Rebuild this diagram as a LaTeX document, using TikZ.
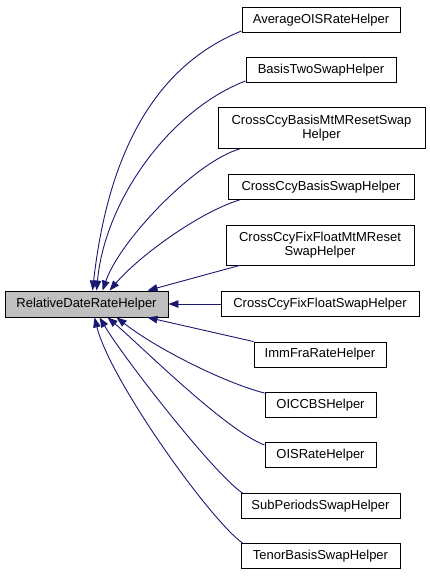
\documentclass[tikz,border=0pt]{standalone}
\usepackage{fontspec}
\setmainfont{Liberation Sans}
\usetikzlibrary{arrows.meta,calc}
\definecolor{edgeblue}{HTML}{191970}
\definecolor{mainfill}{HTML}{BFBFBF}
\begin{document}
\begin{tikzpicture}[x=1pt,y=-1pt,
  box/.style={draw=black,line width=0.9pt,fill=white,inner sep=0pt,align=center,
    font=\fontsize{13}{14}\selectfont},
  mainbox/.style={box,fill=mainfill},
  edge/.style={draw=edgeblue,line width=0.9pt,-{Triangle[length=10pt,width=7.5pt]}}]
\useasboundingbox (0,0) rectangle (429,576);
\node[mainbox,minimum width=163pt,minimum height=26pt] (main) at (86.5,304) {RelativeDateRateHelper};
\node[box,minimum width=158pt,minimum height=25pt] (avg) at (321,20) {AverageOISRateHelper};
\node[box,minimum width=150pt,minimum height=25pt] (basis) at (321,70) {BasisTwoSwapHelper};
\node[box,minimum width=207pt,minimum height=41pt] (ccbmtm) at (321.5,128) {CrossCcyBasisMtMResetSwap\\Helper};
\node[box,minimum width=186pt,minimum height=25pt] (ccbs) at (321,187) {CrossCcyBasisSwapHelper};
\node[box,minimum width=188pt,minimum height=40pt] (ccffmtm) at (320,245) {CrossCcyFixFloatMtMReset\\SwapHelper};
\node[box,minimum width=198pt,minimum height=25pt] (ccffs) at (320,304) {CrossCcyFixFloatSwapHelper};
\node[box,minimum width=132pt,minimum height=25pt] (imm) at (320,354.5) {ImmFraRateHelper};
\node[box,minimum width=111pt,minimum height=25pt] (oiccbs) at (320.5,405) {OICCBSHelper};
\node[box,minimum width=111pt,minimum height=25pt] (ois) at (320.5,455) {OISRateHelper};
\node[box,minimum width=159pt,minimum height=25pt] (subp) at (320.5,506) {SubPeriodsSwapHelper};
\node[box,minimum width=159pt,minimum height=25pt] (tenor) at (320.5,556) {TenorBasisSwapHelper};

\draw[edge] ($(avg.south west)+(0,-2)$) .. controls (140,72) and (105,180) .. ($(main.north west)+(88,0)$);
\draw[edge] ($(basis.south west)+(0,-2)$) .. controls (170,110) and (105,200) .. ($(main.north west)+(92,0)$);
\draw[edge] ($(ccbmtm.south west)+(22,0)$) .. controls (195,162) and (120,240) .. ($(main.north west)+(98,0)$);
\draw[edge] ($(ccbs.south west)+(12,0)$) .. controls (200,212) and (140,255) .. ($(main.north west)+(105,0)$);
\draw[edge] ($(ccffmtm.south west)+(14,0)$) -- ($(main.north west)+(143,0)$);
\draw[edge] (ccffs.west) -- (main.east);
\draw[edge] (imm.north west) -- ($(main.south west)+(143,0)$);
\draw[edge] ($(oiccbs.north west)+(0,1)$) .. controls (225,383) and (157,349) .. ($(main.south west)+(112,0)$);
\draw[edge] ($(ois.north west)+(0,3)$) .. controls (225,430) and (140,345) .. ($(main.south west)+(103,0)$);
\draw[edge] ($(subp.north west)+(2,0)$) .. controls (215,475) and (125,360) .. ($(main.south west)+(95,0)$);
\draw[edge] ($(tenor.north west)+(2,0)$) .. controls (210,520) and (110,380) .. ($(main.south west)+(90,0)$);
\end{tikzpicture}
\end{document}
